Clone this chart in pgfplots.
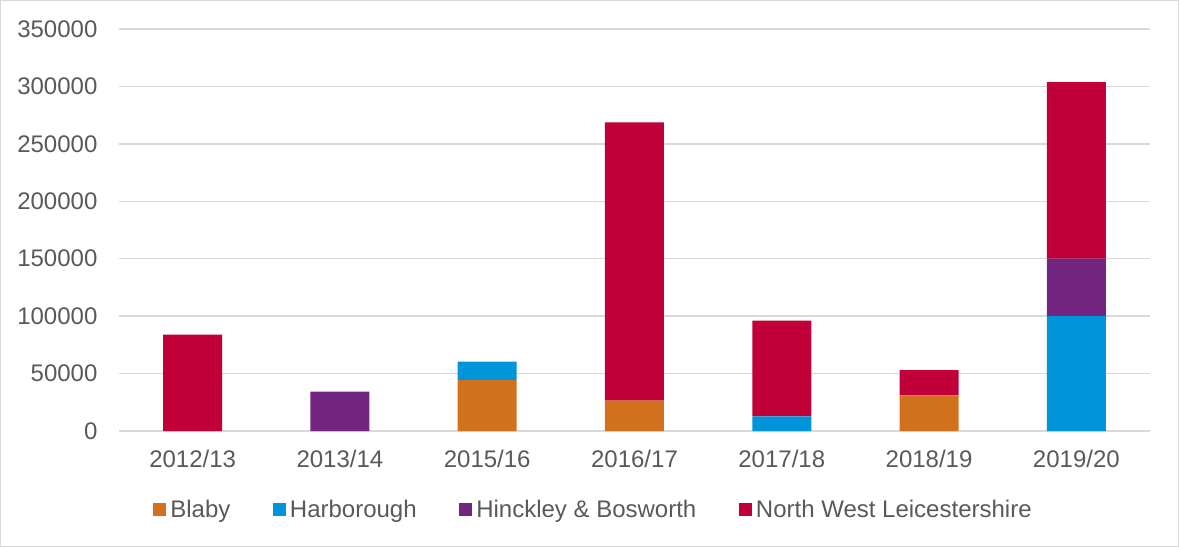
\documentclass[border=0pt]{standalone}
\usepackage{fontspec}
\setmainfont{Liberation Sans}
\usepackage{pgfplots}
\pgfplotsset{compat=1.18}
\usetikzlibrary{calc}

\definecolor{blaby}{RGB}{209,113,30}
\definecolor{harb}{RGB}{0,149,218}
\definecolor{hinck}{RGB}{115,38,128}
\definecolor{nwl}{RGB}{193,0,58}
\definecolor{gridgray}{RGB}{217,217,217}
\definecolor{labgray}{RGB}{89,89,89}

\begin{document}
\begin{tikzpicture}
\begin{axis}[
   name=ax,
   scale only axis, width=515.5pt, height=201pt,
   ybar stacked, bar width=29.5pt,
   xmin=-0.5, xmax=6.5, ymin=0, ymax=350000,
   xtick={0,...,6},
   xticklabels={2012/13,2013/14,2015/16,2016/17,2017/18,2018/19,2019/20},
   ytick={0,50000,...,350000},
   scaled y ticks=false,
   axis x line=bottom, axis y line=left,
   x axis line style={draw=gridgray, line width=0.75pt, -},
   y axis line style={draw=none},
   major tick length=0pt,
   ymajorgrids, grid style={gridgray, line width=0.75pt},
   tick label style={font=\fontsize{12}{14}\selectfont, text=labgray},
   /pgf/number format/assume math mode=true,
   yticklabel style={/pgf/number format/fixed, /pgf/number format/1000 sep={},
       anchor=east, inner sep=0pt, xshift=-10.6pt},
   xticklabel style={anchor=base, inner sep=0pt, yshift=-18.2pt},
   legend style={at={(0.4612,-0.1965)}, anchor=center, draw=none, fill=none,
       inner sep=0pt, font=\fontsize{12}{14}\selectfont, text=labgray,
       legend columns=4,
       /tikz/every even column/.append style={column sep=19.3pt},
       nodes={inner xsep=2pt, inner ysep=1pt}},
   legend image code/.code={\fill[#1] (0pt,-3.25pt) rectangle (6.5pt,3.25pt);},
   legend cell align=left,
]
%% Blaby
\addplot[fill=blaby, draw=none] coordinates {(0,0) (1,0) (2,44400) (3,26500) (4,0) (5,31100) (6,0)};
%% Harborough
\addplot[fill=harb, draw=none] coordinates {(0,0) (1,0) (2,16000) (3,0) (4,12800) (5,0) (6,100000)};
%% Hinckley & Bosworth
\addplot[fill=hinck, draw=none] coordinates {(0,0) (1,34300) (2,0) (3,0) (4,0) (5,0) (6,50000)};
%% North West Leicestershire
\addplot[fill=nwl, draw=none] coordinates {(0,84000) (1,0) (2,0) (3,242100) (4,83400) (5,21800) (6,153800)};
\legend{Blaby,Harborough,Hinckley \& Bosworth,North West Leicestershire}
\end{axis}
\path[use as bounding box] ($(ax.south west)+(-59.5pt,-58pt)$) rectangle ++(589.5pt,273.5pt);
\draw[gridgray, line width=0.75pt] ($(ax.south west)+(-59.125pt,-57.625pt)$) rectangle ++(588.75pt,272.75pt);
\end{tikzpicture}
\end{document}
